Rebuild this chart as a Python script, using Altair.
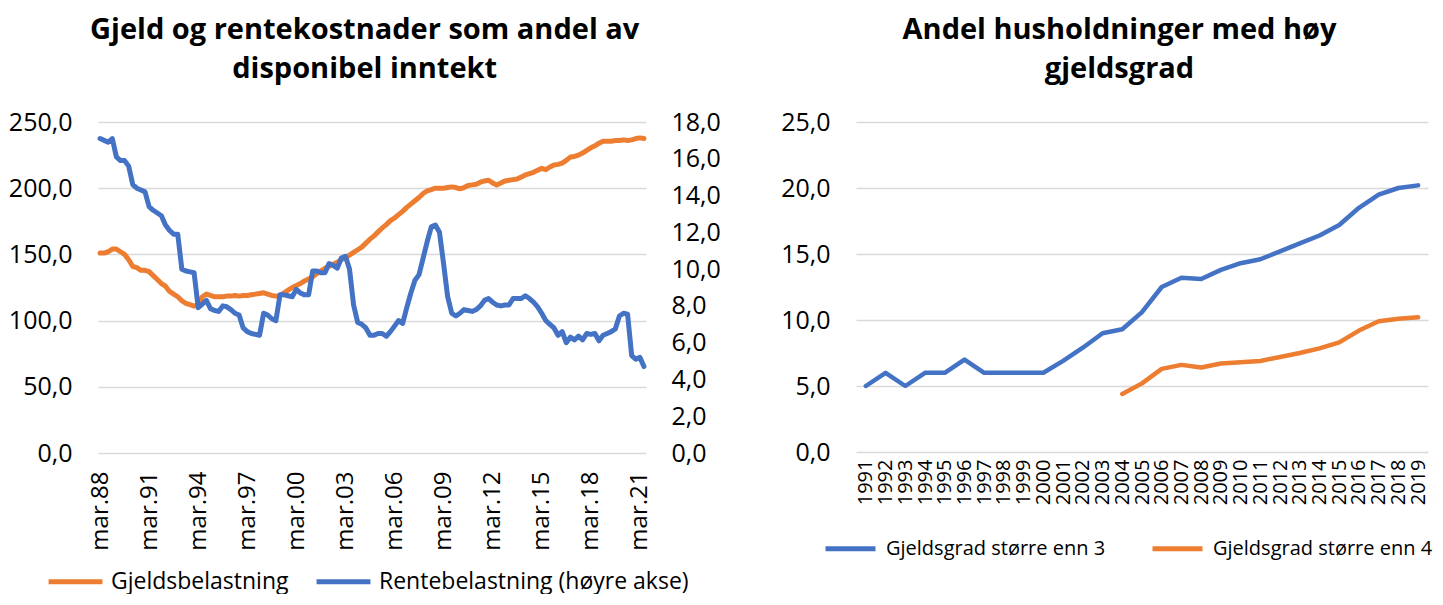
import altair as alt
import pandas as pd

FONT = "Open Sans"
ORANGE = "#ED7D31"
BLUE = "#4472C4"

# ---------------- Left chart data (quarterly, mar.88 - jun.21) ----------------
gjeld = [151, 151, 152, 154, 154, 152, 150, 146, 141, 140,
         138, 138, 137, 134, 131, 128, 126, 122, 120, 118,
         115, 113, 112, 111, 112, 118, 120, 119, 118, 118,
         118, 118.5, 118.5, 119, 118.5, 119, 119, 119.5, 120, 120.5,
         121, 120, 119, 118.5, 119, 121, 123, 125, 126.5, 128,
         130, 131.5, 133, 135.5, 137.5, 139.5, 141, 142.5, 144, 146,
         147.5, 149.5, 151.5, 153.5, 155.5, 158.5, 161.5, 164, 167, 170,
         172.5, 175.5, 177.5, 180, 182.5, 185.5, 188, 190.5, 193, 196,
         198, 199, 200, 200, 200, 200.5, 201, 200.5, 199.5, 200.5,
         202, 202.5, 203, 204.5, 205.5, 206, 204, 202.5, 204, 205.5,
         206, 206.5, 207, 208.5, 210, 211, 212, 213.5, 215, 214,
         216, 217.5, 218, 219, 221, 223.5, 224, 225, 226.5, 228.5,
         230.5, 232, 234, 235.5, 235.5, 235.5, 236, 236, 236.5, 236,
         236.5, 237.5, 238, 237.5]

rente = [17.1, 17.0, 16.9, 17.1, 16.1, 15.9, 15.9, 15.6, 14.6, 14.4,
         14.3, 14.2, 13.4, 13.2, 13.05, 12.9, 12.4, 12.1, 11.9, 11.9,
         10.0, 9.9, 9.85, 9.8, 7.9, 8.1, 8.3, 7.85, 7.75, 7.7,
         8.0, 7.95, 7.8, 7.6, 7.5, 6.8, 6.6, 6.5, 6.45, 6.4,
         7.6, 7.5, 7.3, 7.2, 8.6, 8.6, 8.55, 8.5, 8.9, 8.7,
         8.6, 8.6, 9.9, 9.9, 9.8, 9.8, 10.3, 10.2, 10.05, 10.6,
         10.7, 10.0, 8.05, 7.1, 7.0, 6.8, 6.4, 6.4, 6.5, 6.5,
         6.35, 6.6, 6.9, 7.2, 7.05, 7.9, 8.7, 9.4, 9.7, 10.6,
         11.5, 12.3, 12.4, 12.0, 10.3, 8.5, 7.6, 7.45, 7.6, 7.8,
         7.75, 7.7, 7.8, 8.0, 8.3, 8.4, 8.2, 8.05, 8.0, 8.05,
         8.05, 8.4, 8.4, 8.4, 8.55, 8.4, 8.2, 7.95, 7.6, 7.2,
         7.0, 6.8, 6.4, 6.6, 6.0, 6.3, 6.15, 6.35, 6.15, 6.5,
         6.45, 6.5, 6.1, 6.4, 6.5, 6.6, 6.75, 7.45, 7.6, 7.55,
         5.3, 5.1, 5.2, 4.7]

months = ["mar", "jun", "sep", "des"]
quarters = [f"{months[i % 4]}.{(88 + i // 4) % 100:02d}" for i in range(len(gjeld))]
x_tick_labels = ["mar.88", "mar.91", "mar.94", "mar.97", "mar.00", "mar.03",
                 "mar.06", "mar.09", "mar.12", "mar.15", "mar.18", "mar.21"]
left_series = ["Gjeldsbelastning", "Rentebelastning (høyre akse)"]
left_y_ticks = [0, 50, 100, 150, 200, 250]
right_y_ticks = [0, 2, 4, 6, 8, 10, 12, 14, 16, 18]

# ---------------- Right chart data (annual) ----------------
years = [str(y) for y in range(1991, 2020)]
gg3 = [5, 6, 5, 6, 6, 7, 6, 6, 6, 6, 6.9, 7.9, 9.0, 9.3, 10.6, 12.5, 13.2, 13.1,
       13.8, 14.3, 14.6, 15.2, 15.8, 16.4, 17.2, 18.5, 19.5, 20.0, 20.2]
years4 = [str(y) for y in range(2004, 2020)]
gg4 = [4.4, 5.2, 6.3, 6.6, 6.4, 6.7, 6.8, 6.9, 7.2, 7.5, 7.85, 8.3, 9.2, 9.9, 10.1, 10.2]
right_series = ["Gjeldsgrad større enn 3", "Gjeldsgrad større enn 4"]
rr_y_ticks = [0, 5, 10, 15, 20, 25]

n = len(gjeld)
df_left = pd.DataFrame({
    "kvartal": quarters + quarters,
    "verdi": gjeld + rente,
    "serie": [left_series[0]] * n + [left_series[1]] * n,
})
df_right = pd.DataFrame({
    "aar": years + years4,
    "verdi": gg3 + gg4,
    "gruppe": [right_series[0]] * len(years) + [right_series[1]] * len(years4),
})

comma = "replace(format(datum.value, '.1f'), '.', ',')"

x_left = alt.X("kvartal:O", sort=quarters,
               scale=alt.Scale(type="point", padding=0.5),
               axis=alt.Axis(values=x_tick_labels, labelAngle=-90, labelPadding=18,
                             labelFontSize=24, title=None, labelOverlap=False, grid=False))

color_left = alt.Color(
    "serie:N",
    scale=alt.Scale(domain=left_series, range=[ORANGE, BLUE]),
    legend=alt.Legend(title=None, orient="none", legendX=-52, legendY=430,
                      direction="horizontal", symbolType="stroke", symbolSize=2900,
                      symbolStrokeWidth=5, labelFontSize=23, labelFont=FONT,
                      labelColor="#000000", labelOffset=6, columnPadding=17,
                      labelLimit=0),
)

base_left = alt.Chart(df_left)
gj_line = base_left.transform_filter(
    alt.FieldEqualPredicate(field="serie", equal=left_series[0])
).mark_line(strokeWidth=5, strokeCap="round", strokeJoin="round").encode(
    x=x_left,
    y=alt.Y("verdi:Q", scale=alt.Scale(domain=[0, 250], nice=False),
            axis=alt.Axis(values=left_y_ticks, labelExpr=comma, grid=True, title=None,
                          orient="left", minExtent=89, maxExtent=89, labelPadding=26)),
    color=color_left,
)
re_line = base_left.transform_filter(
    alt.FieldEqualPredicate(field="serie", equal=left_series[1])
).mark_line(strokeWidth=5, strokeCap="round", strokeJoin="round").encode(
    x=x_left,
    y=alt.Y("verdi:Q", scale=alt.Scale(domain=[0, 18], nice=False),
            axis=alt.Axis(values=right_y_ticks, labelExpr=comma, grid=False, title=None,
                          orient="right", minExtent=75, maxExtent=75, labelPadding=25)),
    color=color_left,
)

left = alt.layer(gj_line, re_line).resolve_scale(y="independent").properties(
    width=548, height=331,
    title=alt.TitleParams(text=["Gjeld og rentekostnader som andel av", "disponibel inntekt"],
                          offset=26),
)

right = alt.Chart(df_right).mark_line(strokeWidth=4.5, strokeCap="round",
                                      strokeJoin="round").encode(
    x=alt.X("aar:O", sort=years, scale=alt.Scale(type="point", padding=0.5),
            axis=alt.Axis(labelAngle=-90, labelPadding=7, labelFontSize=20, title=None,
                          labelOverlap=False, grid=False)),
    y=alt.Y("verdi:Q", scale=alt.Scale(domain=[0, 25], nice=False),
            axis=alt.Axis(values=rr_y_ticks, labelExpr=comma, grid=True, title=None,
                          minExtent=80, maxExtent=80, labelPadding=26)),
    color=alt.Color(
        "gruppe:N",
        scale=alt.Scale(domain=right_series, range=[BLUE, ORANGE]),
        legend=alt.Legend(title=None, orient="none", legendX=-33, legendY=399,
                          direction="horizontal", symbolType="stroke", symbolSize=2500,
                          symbolStrokeWidth=5, labelFontSize=20, labelFont=FONT,
                          labelColor="#000000", labelOffset=8, columnPadding=36,
                          labelLimit=0),
    ),
).properties(
    width=572, height=330,
    title=alt.TitleParams(text=["Andel husholdninger med høy", "gjeldsgrad"], offset=26,
                          dx=15),
)

chart = alt.hconcat(left, right, spacing=55).resolve_scale(
    color="independent"
).resolve_legend(color="independent").properties(
    padding={"left": 0, "top": 8, "right": 0, "bottom": 0}
).configure_view(stroke=None).configure_axis(
    labelFont=FONT, labelFontSize=25, labelColor="#000000", ticks=False, domain=False,
    gridColor="#d9d9d9", gridWidth=1.5,
).configure_title(
    font=FONT, fontSize=29, fontWeight="bold", color="#000000", anchor="middle",
    frame="bounds", lineHeight=39,
)

chart.save("out.html", embed_options={"renderer": "svg", "actions": False})
